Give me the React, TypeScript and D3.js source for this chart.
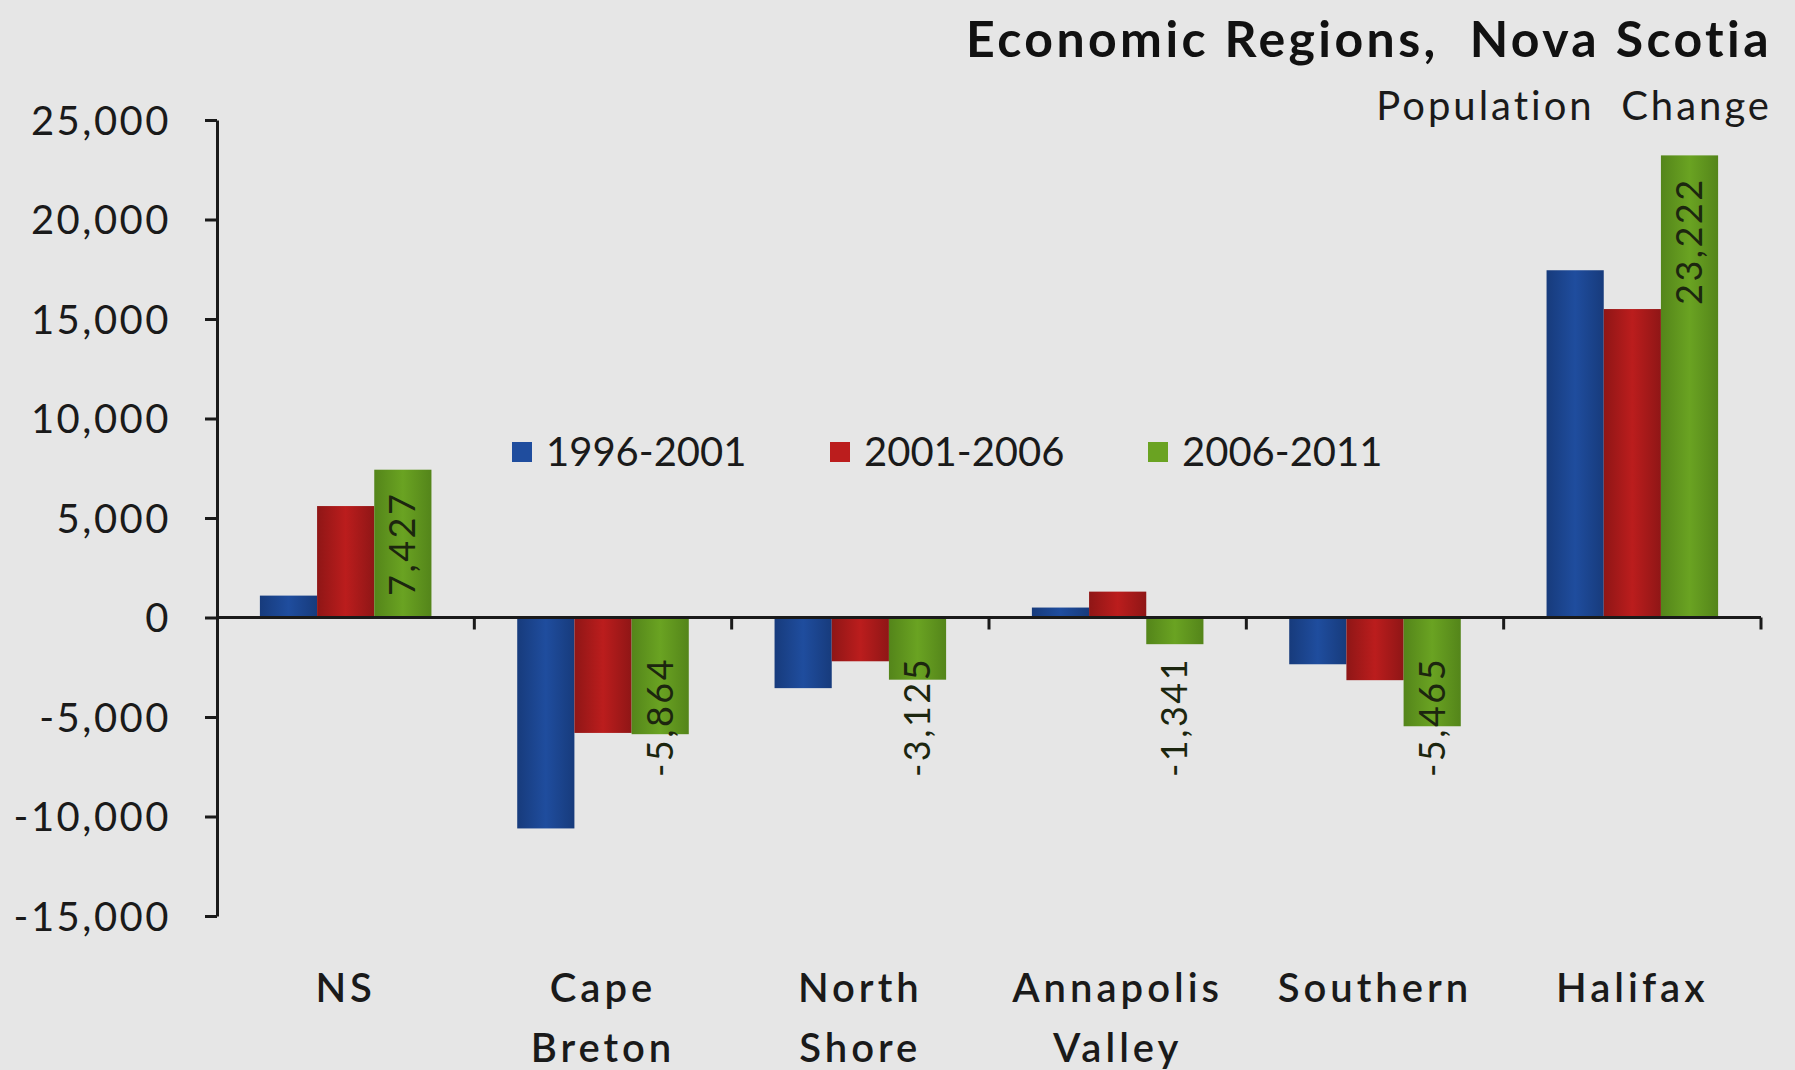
import * as d3 from 'd3';
import React, { useEffect, useRef } from 'react';

const categories = ['NS', 'Cape Breton', 'North Shore', 'Annapolis Valley', 'Southern', 'Halifax'];
const categoryLines = [['NS'], ['Cape', 'Breton'], ['North', 'Shore'], ['Annapolis', 'Valley'], ['Southern'], ['Halifax']];
const seriesNames = ['1996-2001', '2001-2006', '2006-2011'];
const values1996 = [1100, -10600, -3550, 500, -2350, 17450];
const values2001 = [5600, -5800, -2200, 1300, -3150, 15500];
const values2006 = [7427, -5864, -3125, -1341, -5465, 23222];
const yTicks = [-15000, -10000, -5000, 0, 5000, 10000, 15000, 20000, 25000];

const colors = ['#1f4d9e', '#bb1d1d', '#6aa322'];
const colorsDark = ['#173b7c', '#8f1616', '#54851a'];

const FONT = 'Lato, "Open Sans", sans-serif';

// plain hyphen for negatives, like the original
const fmt = d3.formatLocale({ decimal: '.', thousands: ',', grouping: [3], currency: ['', ''], minus: '-' }).format(',');

const App: React.FC = () => {
  const ref = useRef<SVGSVGElement | null>(null);

  useEffect(() => {
    if (!ref.current) return;
    const svg = d3.select(ref.current);
    svg.selectAll('*').remove();

    const width = 1795;
    const height = 1070;
    const margin = { top: 120, right: 34, bottom: 154, left: 217 };

    svg.append('rect').attr('width', width).attr('height', height).attr('fill', '#e6e6e6');

    const defs = svg.append('defs');
    colors.forEach((c, i) => {
      const g = defs
        .append('linearGradient')
        .attr('id', `grad${i}`)
        .attr('x1', '0%')
        .attr('x2', '100%')
        .attr('y1', '0%')
        .attr('y2', '0%');
      g.append('stop').attr('offset', '0%').attr('stop-color', colorsDark[i]);
      g.append('stop').attr('offset', '50%').attr('stop-color', c);
      g.append('stop').attr('offset', '100%').attr('stop-color', colorsDark[i]);
    });

    const x0 = d3
      .scaleBand<string>()
      .domain(categories)
      .range([margin.left, width - margin.right])
      .padding(0);
    const bw = x0.bandwidth();
    const x1 = d3
      .scaleBand<string>()
      .domain(seriesNames)
      .range([bw / 6, (bw * 5) / 6])
      .padding(0);

    const y = d3
      .scaleLinear()
      .domain([-15000, 25000])
      .range([height - margin.bottom, margin.top]);

    const seriesData = [values1996, values2001, values2006];

    // bars
    seriesData.forEach((vals, si) => {
      svg
        .append('g')
        .selectAll('rect')
        .data(vals)
        .enter()
        .append('rect')
        .attr('x', (_, i) => (x0(categories[i]) ?? 0) + (x1(seriesNames[si]) ?? 0))
        .attr('y', (d) => y(Math.max(0, d)))
        .attr('width', x1.bandwidth())
        .attr('height', (d) => Math.abs(y(d) - y(0)))
        .attr('fill', `url(#grad${si})`);
    });

    // y axis
    const yAxis = d3
      .axisLeft(y)
      .tickValues(yTicks)
      .tickSize(12)
      .tickSizeOuter(0)
      .tickPadding(34)
      .tickFormat((d) => fmt(d as number));
    const yg = svg.append('g').attr('transform', `translate(${margin.left},0)`).call(yAxis);
    yg.select('.domain').attr('stroke', '#1a1a1a').attr('stroke-width', 3);
    yg.selectAll('.tick line').attr('stroke', '#1a1a1a').attr('stroke-width', 3);
    yg.selectAll('.tick text')
      .attr('font-family', FONT)
      .attr('font-size', 40)
      .attr('letter-spacing', 2.5)
      .attr('fill', '#1a1a1a')
      .attr('dy', '0.35em');

    // x axis at zero
    const boundaries = categories.map((c) => x0(c) ?? 0).concat([width - margin.right]);
    const xg = svg.append('g');
    xg.append('line')
      .attr('x1', margin.left)
      .attr('x2', width - margin.right)
      .attr('y1', y(0))
      .attr('y2', y(0))
      .attr('stroke', '#1a1a1a')
      .attr('stroke-width', 3);
    xg.selectAll('line.tick')
      .data(boundaries.slice(1))
      .enter()
      .append('line')
      .attr('class', 'tick')
      .attr('x1', (d) => d)
      .attr('x2', (d) => d)
      .attr('y1', y(0))
      .attr('y2', y(0) + 12)
      .attr('stroke', '#1a1a1a')
      .attr('stroke-width', 3);

    // data labels on 2006-2011
    svg
      .append('g')
      .selectAll('text')
      .data(values2006)
      .enter()
      .append('text')
      .attr('transform', (d, i) => {
        const cx = (x0(categories[i]) ?? 0) + (x1(seriesNames[2]) ?? 0) + x1.bandwidth() / 2;
        const cy = d >= 0 ? y(d) + 22 : y(-5000);
        return `translate(${cx},${cy}) rotate(-90)`;
      })
      .attr('text-anchor', (d) => (d >= 0 ? 'end' : 'middle'))
      .attr('dy', '0.35em')
      .attr('font-family', FONT)
      .attr('font-size', 36)
      .attr('letter-spacing', 2.5)
      .attr('fill', '#1c260f')
      .text((d) => fmt(d));

    // category labels
    const cl = svg
      .append('g')
      .selectAll('text')
      .data(categoryLines)
      .enter()
      .append('text')
      .attr('x', (_, i) => (x0(categories[i]) ?? 0) + bw / 2)
      .attr('y', 1002)
      .attr('text-anchor', 'middle')
      .attr('font-family', FONT)
      .attr('font-size', 40)
      .attr('font-weight', 600)
      .attr('letter-spacing', 4)
      .attr('fill', '#1a1a1a');
    cl.selectAll('tspan')
      .data((d) => d)
      .enter()
      .append('tspan')
      .attr('x', function () {
        return (this.parentNode as SVGTextElement).getAttribute('x');
      })
      .attr('dy', (_, j) => (j === 0 ? 0 : 60))
      .text((d) => d);

    // legend
    const legendX = [512, 830, 1148];
    const lg = svg
      .append('g')
      .selectAll('g')
      .data(seriesNames)
      .enter()
      .append('g')
      .attr('transform', (_, i) => `translate(${legendX[i]},452)`);
    lg.append('rect')
      .attr('x', 0)
      .attr('y', -10)
      .attr('width', 20)
      .attr('height', 20)
      .attr('fill', (_, i) => colors[i]);
    lg.append('text')
      .attr('x', 34)
      .attr('dy', '0.35em')
      .attr('font-family', FONT)
      .attr('font-size', 40)
      .attr('fill', '#1a1a1a')
      .text((d) => d);

    // titles
    svg
      .append('text')
      .attr('x', 1772)
      .attr('y', 57)
      .attr('text-anchor', 'end')
      .attr('font-family', FONT)
      .attr('font-size', 50)
      .attr('font-weight', 700)
      .attr('letter-spacing', 3.4)
      .attr('fill', '#111')
      .style('white-space', 'pre')
      .text('Economic Regions,  Nova Scotia');
    svg
      .append('text')
      .attr('x', 1772)
      .attr('y', 120)
      .attr('text-anchor', 'end')
      .attr('font-family', FONT)
      .attr('font-size', 40)
      .attr('letter-spacing', 3)
      .attr('fill', '#1a1a1a')
      .style('white-space', 'pre')
      .text('Population  Change');
  }, []);

  return (
    <div style={{ position: 'absolute', left: 0, top: 0 }}>
      <svg ref={ref} width={1795} height={1070} style={{ display: 'block' }} />
    </div>
  );
};

export default App;
